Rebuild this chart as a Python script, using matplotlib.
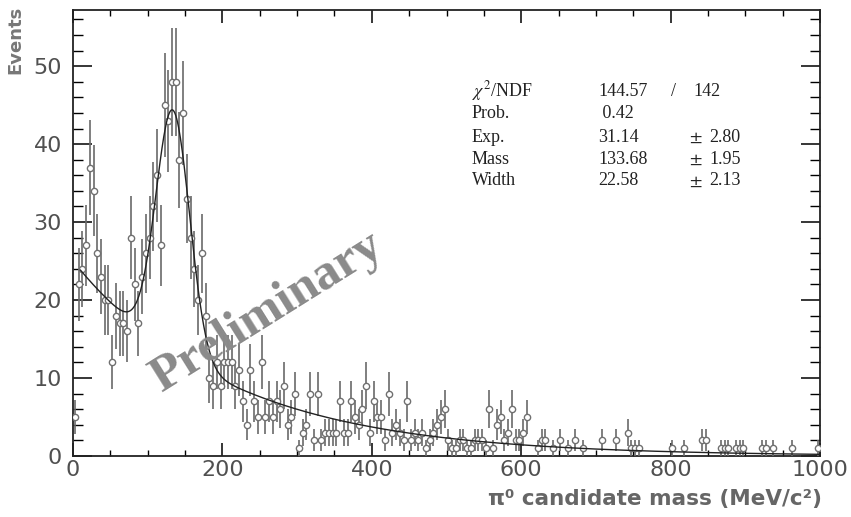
import numpy as np
import matplotlib
matplotlib.use('Agg')
import matplotlib.pyplot as plt
from matplotlib.ticker import MultipleLocator

# Histogram of pi0 candidate mass, 5 MeV bins from 0 to 1000 (counts)
bin_width = 5
counts = [
    5, 22, 24, 27, 37, 34, 26, 23, 20, 20,      # 0-50
    12, 18, 17, 17, 16, 28, 22, 17, 23, 26,     # 50-100
    28, 32, 36, 27, 45, 43, 48, 48, 38, 44,     # 100-150
    33, 28, 24, 20, 26, 18, 10, 9, 12, 9,       # 150-200
    12, 12, 12, 9, 11, 7, 4, 11, 7, 5,          # 200-250
    12, 5, 7, 5, 7, 6, 9, 4, 5, 8,              # 250-300
    1, 3, 4, 8, 2, 8, 2, 3, 3, 3,               # 300-350
    3, 7, 3, 3, 7, 5, 4, 6, 9, 3,               # 350-400
    7, 5, 5, 2, 8, 3, 4, 3, 2, 7,               # 400-450
    2, 3, 2, 3, 1, 2, 3, 4, 5, 6,               # 450-500
    2, 1, 1, 2, 2, 1, 1, 2, 2, 2,               # 500-550
    1, 6, 1, 4, 5, 2, 3, 6, 2, 2,               # 550-600
    3, 5, 0, 0, 1, 2, 2, 0, 1, 0,               # 600-650
    2, 0, 1, 0, 2, 0, 1, 0, 0, 0,               # 650-700
    0, 2, 0, 0, 0, 2, 0, 0, 3, 1,               # 700-750
    1, 1, 0, 0, 0, 0, 0, 0, 0, 0,               # 750-800
    1, 0, 0, 1, 0, 0, 0, 0, 2, 2,               # 800-850
    0, 0, 0, 1, 1, 1, 0, 1, 1, 1,               # 850-900
    0, 0, 0, 0, 1, 1, 0, 1, 0, 0,               # 900-950
    0, 0, 1, 0, 0, 0, 0, 0, 0, 1,               # 950-1000
]

# Fit result: gaussian + exponential background
fit_exp = 31.14
fit_mass = 133.68
fit_width = 22.58
bkg_norm = 25.0
bkg_slope = 210.0
fit_range = [10, 1000]

stat_names = ['$\\chi^2$/NDF', 'Prob.', 'Exp.', 'Mass', 'Width']
stat_values = ['144.57', ' 0.42', '31.14', '133.68', '22.58']
stat_errors = ['', '', '2.80', '1.95', '2.13']

plt.rcParams['mathtext.fontset'] = 'stix'

counts = np.array(counts, dtype=float)
centers = np.arange(len(counts)) * bin_width + bin_width / 2
keep = counts > 0

fig = plt.figure(figsize=(8.51, 5.17), dpi=100)
ax = fig.add_axes([73 / 851, 61 / 517, 747 / 851, 446 / 517])

# data points with poisson errors
ax.errorbar(centers[keep], counts[keep], yerr=np.sqrt(counts[keep]),
            fmt='o', ms=4.5, mfc='white', mec='#707070', mew=1.0,
            ecolor='#6a6a6a', elinewidth=1.2, capsize=0, zorder=3)

# fit curve
xf = np.linspace(fit_range[0], fit_range[1], 800)
yf = fit_exp * np.exp(-0.5 * ((xf - fit_mass) / fit_width) ** 2) + bkg_norm * np.exp(-xf / bkg_slope)
ax.plot(xf, yf, color='#222222', lw=1.0, zorder=4)

ax.set_xlim(0, 1000)
ax.set_ylim(0, 57.2)

ax.xaxis.set_major_locator(MultipleLocator(200))
ax.xaxis.set_minor_locator(MultipleLocator(50))
ax.yaxis.set_major_locator(MultipleLocator(10))
ax.yaxis.set_minor_locator(MultipleLocator(2))
ax.tick_params(axis='x', which='major', direction='in', top=True, length=9.5, width=1.1,
               labelsize=16, labelcolor='#505050', pad=3)
ax.tick_params(axis='x', which='minor', direction='in', top=True, length=4, width=1.0)
ax.tick_params(axis='y', which='major', direction='in', right=True, length=14, width=1.1,
               labelsize=16, labelcolor='#505050', pad=8)
ax.tick_params(axis='y', which='minor', direction='in', right=True, length=7, width=1.0)
for sp in ax.spines.values():
    sp.set_linewidth(1.3)
    sp.set_color('#222222')

# axis titles
fig.text(15 / 851, 1 - 40 / 517, 'Events', rotation=90, ha='center', va='center',
         fontsize=13, fontweight='bold', color='#777777')
fig.text(822 / 851, 1 - 499 / 517, 'π⁰ candidate mass (MeV/c²)', ha='right', va='center',
         fontsize=15.5, fontweight='bold', color='#666666')

# fit statistics
rows_y = [91, 113, 137, 159, 181]
fs = 13
for name, val, err, py in zip(stat_names, stat_values, stat_errors, rows_y):
    fy = 1 - py / 517
    fig.text(472 / 851, fy, name, ha='left', va='center', fontsize=fs,
             family='Liberation Serif', color='#222222')
    fig.text(598 / 851, fy, val, ha='left', va='center', fontsize=fs,
             family='Liberation Serif', color='#222222')
    if err:
        fig.text(689 / 851, fy, '$\\pm$', ha='left', va='center', fontsize=fs, color='#222222')
        fig.text(709 / 851, fy, err, ha='left', va='center', fontsize=fs,
                 family='Liberation Serif', color='#222222')
fig.text(671 / 851, 1 - rows_y[0] / 517, '/', ha='left', va='center', fontsize=fs,
         family='Liberation Serif', color='#222222')
fig.text(693 / 851, 1 - rows_y[0] / 517, '142', ha='left', va='center', fontsize=fs,
         family='Liberation Serif', color='#222222')

# watermark
fig.text(267 / 851, 1 - 312 / 517, 'Preliminary', rotation=32, ha='center', va='center',
         rotation_mode='anchor', fontsize=37, fontweight='bold', family='Liberation Serif',
         color='#8a8a8a', zorder=5)

fig.savefig('out.png', dpi=100)
